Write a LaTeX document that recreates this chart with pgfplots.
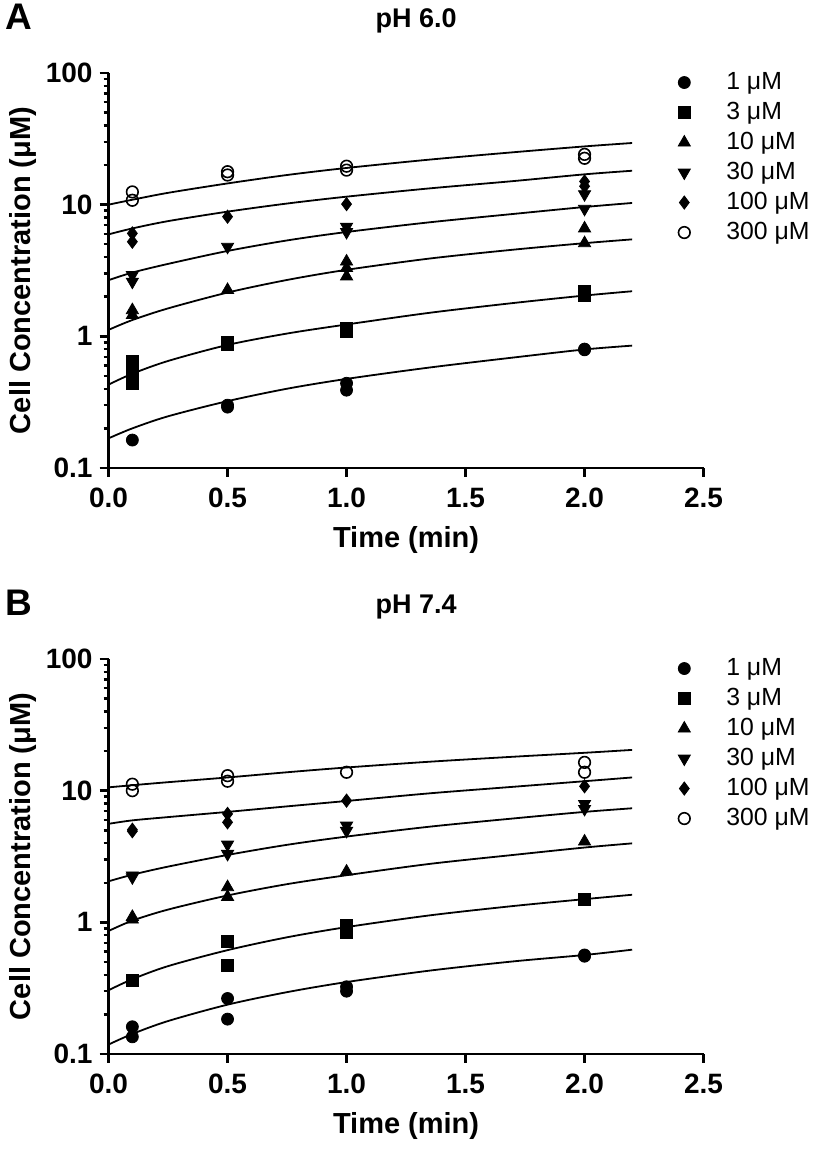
\documentclass[border=0pt]{standalone}
\usepackage{pgfplots}
\pgfplotsset{compat=1.18}
\usepackage{fontspec}
\setmainfont{Liberation Sans}
\begin{document}
\pgfplotsset{
  mypanel/.style={
    scale only axis, width=297.5pt, height=197.5pt,
    xmin=0, xmax=2.5, ymin=0.1, ymax=100,
    axis lines=left, axis line style={line width=1.2pt,-},
    tick style={line width=1.2pt, black},
    tick align=outside, major tick length=4.5pt, minor tick length=2.5pt,
    xtick={0,0.5,1,1.5,2,2.5}, xticklabels={0.0,0.5,1.0,1.5,2.0,2.5},
    ytick={0.1,1,10,100}, yticklabels={0.1,1,10,100},
    minor ytick={0.2,0.3,0.4,0.5,0.6,0.7,0.8,0.9,2,3,4,5,6,7,8,9,20,30,40,50,60,70,80,90},
    tick label style={font=\bfseries\fontsize{14}{14}\selectfont},
    xticklabel style={yshift=-2pt},
    every axis y label/.style={at={(axis description cs:-0.143,0.5)},rotate=90,anchor=center,font=\bfseries\fontsize{14.5}{15}\selectfont},
    every axis x label/.style={at={(axis description cs:0.5,-0.182)},anchor=center,font=\bfseries\fontsize{14.5}{15}\selectfont},
    xlabel={Time (min)}, ylabel={Cell Concentration (μM)},
    every axis title/.style={at={(axis description cs:0.517,1)},anchor=center,yshift=26pt,font=\bfseries\fontsize{13.5}{13.5}\selectfont},
    legend style={draw=none, fill=none, at={(axis description cs:0.93,1.025)}, anchor=north west,
      font=\fontsize{12.4}{12.4}\selectfont, nodes={text height=9pt, text depth=2pt, inner ysep=2pt}},
    legend cell align=left,
    legend image code/.code={\path[draw=none,fill=none] (0pt,0pt) -- (27pt,0pt); \draw[mark repeat=2, mark phase=2, ##1, only marks] plot coordinates {(0pt,0pt) (8pt,0pt) (16pt,0pt)};},
    clip=false,
  },
  fitline/.style={black, line width=0.9pt, smooth, no marks, forget plot},
  s1/.style={black, only marks, mark=*, mark size=3pt},
  s2/.style={black, only marks, mark=square*, mark size=2.9pt},
  s3/.style={black, only marks, mark=triangle*, mark size=3.5pt},
  s4/.style={black, only marks, mark=triangle*, mark size=3.5pt, mark options={rotate=180}},
  s5/.style={black, only marks, mark=diamond*, mark size=3.3pt},
  s6/.style={black, only marks, mark=o, mark size=2.9pt, mark options={line width=0.8pt}},
}
\begin{tikzpicture}[x=1pt,y=1pt]
\path[use as bounding box] (0,0) rectangle (406,575);
\node[font=\bfseries\fontsize{18.5}{18.5}\selectfont] at (6.5,566.5) {A};
\node[font=\bfseries\fontsize{18.5}{18.5}\selectfont] at (6.5,273.5) {B};
% ---------------- Panel A: pH 6.0
\begin{axis}[ymode=log, mypanel, at={(51.5pt,341pt)}, anchor=south west, title={pH 6.0}]
\addplot[fitline] coordinates {(0,0.168) (0.1,0.2) (0.25,0.247) (0.5,0.322) (0.75,0.40) (1.0,0.475) (1.35,0.58) (1.7,0.69) (2.0,0.795) (2.2,0.85)};
\addplot[fitline] coordinates {(0,0.43) (0.1,0.52) (0.25,0.65) (0.5,0.86) (0.75,1.05) (1.0,1.23) (1.35,1.51) (1.7,1.79) (2.0,2.04) (2.2,2.2)};
\addplot[fitline] coordinates {(0,1.12) (0.1,1.33) (0.25,1.63) (0.5,2.15) (0.75,2.68) (1.0,3.2) (1.35,3.9) (1.7,4.55) (2.0,5.1) (2.2,5.45)};
\addplot[fitline] coordinates {(0,2.67) (0.1,3.05) (0.25,3.55) (0.5,4.45) (0.75,5.35) (1.0,6.2) (1.35,7.35) (1.7,8.5) (2.0,9.6) (2.2,10.3)};
\addplot[fitline] coordinates {(0,5.95) (0.1,6.6) (0.25,7.5) (0.5,8.85) (0.75,10.2) (1.0,11.5) (1.35,13.3) (1.7,15.1) (2.0,17.0) (2.2,18.1)};
\addplot[fitline] coordinates {(0,10.0) (0.1,10.9) (0.25,12.3) (0.5,14.5) (0.75,16.8) (1.0,19.0) (1.35,22.0) (1.7,25.0) (2.0,27.7) (2.2,29.4)};
\addplot[s1] coordinates {(0.1,0.163) (0.5,0.29) (0.5,0.30) (1.0,0.44) (1.0,0.39) (2.0,0.80) (2.0,0.79)};
\addplot[s2] coordinates {(0.1,0.65) (0.1,0.55) (0.1,0.44) (0.5,0.86) (0.5,0.91) (1.0,1.15) (1.0,1.08) (2.0,2.2) (2.0,2.05)};
\addplot[s3] coordinates {(0.1,1.58) (0.1,1.45) (0.5,2.25) (1.0,3.7) (1.0,3.3) (1.0,2.85) (2.0,6.6) (2.0,5.1)};
\addplot[s4] coordinates {(0.1,2.92) (0.1,2.6) (0.5,4.79) (1.0,6.8) (1.0,6.2) (2.0,12.0) (2.0,9.3)};
\addplot[s5] coordinates {(0.1,6.05) (0.1,5.23) (0.5,8.1) (1.0,10.1) (2.0,15.0) (2.0,13.8)};
\addplot[s6] coordinates {(0.1,12.5) (0.1,10.8) (0.5,17.8) (0.5,16.8) (1.0,19.6) (1.0,18.3) (2.0,24.1) (2.0,22.5)};
\legend{1 μM,3 μM,10 μM,30 μM,100 μM,300 μM}
\end{axis}
% ---------------- Panel B: pH 7.4
\begin{axis}[ymode=log, mypanel, at={(51.5pt,48pt)}, anchor=south west, title={pH 7.4}]
\addplot[fitline] coordinates {(0,0.118) (0.1,0.142) (0.25,0.178) (0.5,0.237) (0.75,0.295) (1.0,0.352) (1.35,0.43) (1.7,0.505) (2.0,0.565) (2.2,0.62)};
\addplot[fitline] coordinates {(0,0.305) (0.1,0.37) (0.25,0.465) (0.5,0.615) (0.75,0.77) (1.0,0.92) (1.35,1.13) (1.7,1.33) (2.0,1.5) (2.2,1.62)};
\addplot[fitline] coordinates {(0,0.86) (0.1,1.03) (0.25,1.25) (0.5,1.6) (0.75,1.95) (1.0,2.28) (1.35,2.78) (1.7,3.25) (2.0,3.7) (2.2,3.98)};
\addplot[fitline] coordinates {(0,2.05) (0.1,2.3) (0.25,2.65) (0.5,3.25) (0.75,3.88) (1.0,4.48) (1.35,5.33) (1.7,6.15) (2.0,6.9) (2.2,7.35)};
\addplot[fitline] coordinates {(0,5.6) (0.1,5.95) (0.25,6.3) (0.5,6.9) (0.75,7.6) (1.0,8.35) (1.35,9.55) (1.7,10.7) (2.0,11.8) (2.2,12.6)};
\addplot[fitline] coordinates {(0,10.6) (0.1,11.0) (0.25,11.6) (0.5,12.6) (0.75,13.8) (1.0,15.0) (1.35,16.6) (1.7,18.1) (2.0,19.4) (2.2,20.4)};
\addplot[s1] coordinates {(0.1,0.161) (0.1,0.135) (0.5,0.264) (0.5,0.184) (1.0,0.324) (1.0,0.30) (2.0,0.553) (2.0,0.565)};
\addplot[s2] coordinates {(0.1,0.364) (0.5,0.718) (0.5,0.472) (1.0,0.949) (1.0,0.84) (2.0,1.49)};
\addplot[s3] coordinates {(0.1,1.10) (0.1,1.05) (0.5,1.85) (0.5,1.56) (1.0,2.43) (2.0,4.11)};
\addplot[s4] coordinates {(0.1,2.27) (0.1,2.2) (0.5,3.90) (0.5,3.31) (1.0,5.43) (1.0,4.95) (2.0,7.93) (2.0,7.27)};
\addplot[s5] coordinates {(0.1,4.92) (0.1,5.05) (0.5,6.66) (0.5,5.75) (1.0,8.4) (2.0,10.8)};
\addplot[s6] coordinates {(0.1,11.2) (0.1,10.0) (0.5,13.0) (0.5,11.8) (1.0,13.8) (2.0,16.4) (2.0,13.8)};
\legend{1 μM,3 μM,10 μM,30 μM,100 μM,300 μM}
\end{axis}
\end{tikzpicture}
\end{document}
